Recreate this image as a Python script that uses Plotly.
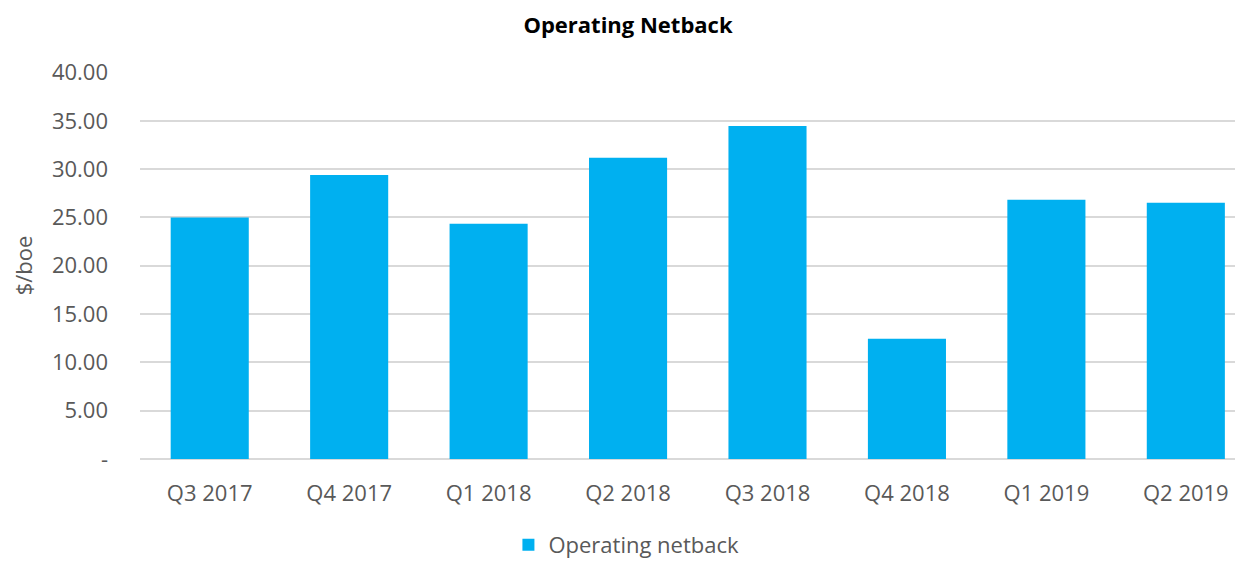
import plotly.graph_objects as go

categories = ["Q3 2017", "Q4 2017", "Q1 2018", "Q2 2018", "Q3 2018", "Q4 2018", "Q1 2019", "Q2 2019"]
netback = [25.00, 29.38, 24.35, 31.18, 34.45, 12.44, 26.83, 26.52]
tick_vals = [0, 5, 10, 15, 20, 25, 30, 35, 40]
tick_text = ["-", "5.00", "10.00", "15.00", "20.00", "25.00", "30.00", "35.00", "40.00"]

FONT = "Open Sans, Noto Sans, sans-serif"
GRAY = "#595959"

fig = go.Figure()
fig.add_trace(go.Bar(
    x=categories, y=netback, name="Operating netback",
    marker=dict(color="#00B0F0", line=dict(width=0)),
))

fig.update_layout(
    width=1235, height=554,
    margin=dict(l=132, r=0, t=64, b=103, autoexpand=False),
    paper_bgcolor="white", plot_bgcolor="white",
    font=dict(family=FONT, color=GRAY, size=22),
    title=dict(text="<b>Operating Netback</b>", x=0.502, xanchor="center", y=0.969, yanchor="middle",
               font=dict(family=FONT, size=22, color="black")),
    bargap=0.44,
    showlegend=True,
    legend=dict(orientation="h", x=0.441, xanchor="center", y=-0.222, yanchor="middle",
                font=dict(size=22, color=GRAY), itemwidth=30),
    xaxis=dict(range=[-0.5, 7.41], showgrid=False, showline=False, ticks="", automargin=False,
               tickfont=dict(size=22, color=GRAY), ticklabelstandoff=19),
    yaxis=dict(range=[0, 40.05], tickvals=tick_vals, ticktext=tick_text, automargin=False,
               showgrid=True, gridcolor="#D9D9D9", gridwidth=1.5, zeroline=True,
               zerolinecolor="#D9D9D9", zerolinewidth=1.5, showline=False,
               tickfont=dict(size=22, color=GRAY), ticklabelstandoff=31,
               title=dict(text="$/boe", font=dict(size=22, color=GRAY), standoff=30)),
)

fig.write_html("out.html")
